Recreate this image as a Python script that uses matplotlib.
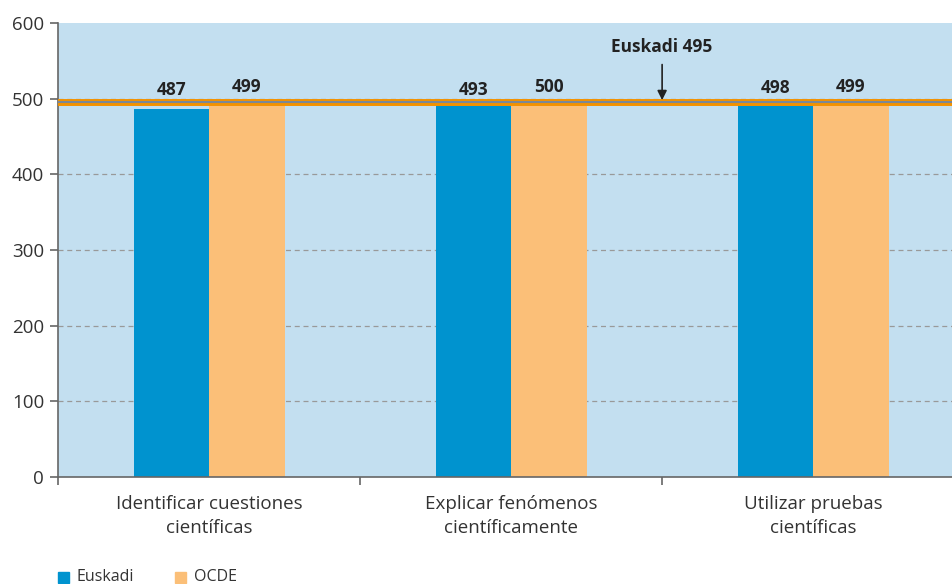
import matplotlib
matplotlib.use("Agg")
import matplotlib.pyplot as plt
import numpy as np
from matplotlib.patches import Rectangle

categories = ["Identificar cuestiones\ncientíficas", "Explicar fenómenos\ncientíficamente", "Utilizar pruebas\ncientíficas"]
euskadi = [487, 493, 498]
ocde = [499, 500, 499]
euskadi_mean = 495
yticks = [0, 100, 200, 300, 400, 500, 600]

plt.rcParams['font.family'] = ['Open Sans', 'DejaVu Sans']

fig = plt.figure(figsize=(9.53, 5.84), dpi=100)
ax = fig.add_axes([58/953, 1-477/584, (953-58)/953, (477-23)/584])
ax.set_facecolor('#c3dff0')

x = np.arange(len(categories))
w = 0.25
ax.bar(x - w/2, euskadi, w, color='#0093cf', zorder=2)
ax.bar(x + w/2, ocde, w, color='#fbbf78', zorder=2)

for yv in yticks[1:-1]:
    ax.axhline(yv, color='#999999', lw=0.9, ls=(0, (4, 3)), zorder=1)

ax.axhline(euskadi_mean, color='#f39200', lw=5, zorder=3)
ax.axhline(euskadi_mean, color='#7b8896', lw=1.5, zorder=4)

for xi, v in zip(x - w/2, euskadi):
    ax.text(xi, max(v, euskadi_mean) + 4, str(v), ha='center', va='bottom', fontsize=12.5, fontweight='bold', color='#222222', zorder=5)
for xi, v in zip(x + w/2, ocde):
    ax.text(xi, v + 4, str(v), ha='center', va='bottom', fontsize=12.5, fontweight='bold', color='#222222', zorder=5)

ax.annotate(f"Euskadi {euskadi_mean}", xy=(1.5, euskadi_mean + 3), xytext=(1.5, 568),
            ha='center', va='center', fontsize=12.5, fontweight='bold', color='#222222',
            arrowprops=dict(arrowstyle='-|>', color='#222222', lw=1.2, mutation_scale=14, shrinkA=4, shrinkB=0), zorder=5)

ax.set_ylim(0, 600)
ax.set_xlim(-0.5, 2.463)
ax.set_yticks(yticks)
ax.set_yticklabels([str(t) for t in yticks], fontsize=13.5, color='#333333')
ax.set_xticks([-0.5, 0.5, 1.5])
ax.set_xticklabels([])
ax.set_xticks(x, minor=True)
ax.set_xticklabels(categories, minor=True, fontsize=13.5, color='#333333', linespacing=1.4)
ax.tick_params(axis='x', which='minor', length=0, pad=13)
ax.tick_params(axis='x', which='major', length=6, color='#666666', width=1.2)
ax.tick_params(axis='y', length=6, color='#666666', width=1.2, pad=4)
for s in ['top', 'right']:
    ax.spines[s].set_visible(False)
for s in ['left', 'bottom']:
    ax.spines[s].set_color('#666666')
    ax.spines[s].set_linewidth(1.2)

# legend
fig.patches.append(Rectangle((58/953, 1-583/584), 11/953, 11/584, transform=fig.transFigure, color='#0093cf'))
fig.text(77/953, 1-577/584, "Euskadi", fontsize=11.5, color='#333333', va='center')
fig.patches.append(Rectangle((175/953, 1-583/584), 11/953, 11/584, transform=fig.transFigure, color='#fbbf78'))
fig.text(194/953, 1-577/584, "OCDE", fontsize=11.5, color='#333333', va='center')

fig.savefig('out.png', dpi=100)
